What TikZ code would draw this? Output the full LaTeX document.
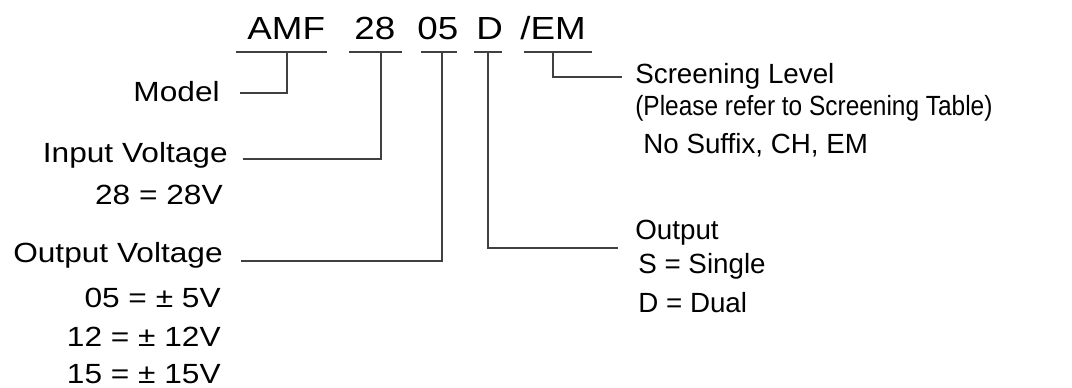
\documentclass[tikz,border=0pt]{standalone}
\usepackage{fontspec}
\setmainfont{Liberation Sans}
\newfontfamily\codefont[FakeStretch=1.15]{Liberation Sans}
\newfontfamily\leftfont[FakeStretch=1.14]{Liberation Sans}
\newfontfamily\notefont[FakeStretch=0.88]{Liberation Sans}
\begin{document}
\begin{tikzpicture}[x=0.02cm,y=-0.02cm,
  lbl/.style={inner sep=0pt,anchor=base west,font=\fontsize{15.8}{19}\selectfont},
  lbll/.style={inner sep=0pt,anchor=base east,font=\leftfont\fontsize{15.8}{19}\selectfont},
  note/.style={inner sep=0pt,anchor=base west,font=\notefont\fontsize{15.8}{19}\selectfont},
  code/.style={inner sep=0pt,anchor=base west,font=\codefont\fontsize{18.2}{21}\selectfont},
  lead/.style={draw=black!75,line width=0.6pt}]
  \useasboundingbox (0,0) rectangle (1072,387);
  % part number
  \node[code] (amf) at (247,39) {AMF};
  \node[code] (vin) at (354,39) {28};
  \node[code] (vout) at (417,39) {05};
  \node[code] (outs) at (476,39) {D};
  \node[code] (scr) at (520,39) {/EM};
  \foreach \a/\b in {236/327, 349/402, 421/457, 474/502, 524/592}
    \draw[lead] (\a,52) -- (\b,52);
  \coordinate (amf-t) at (287,52);
  \coordinate (vin-t) at (381,52);
  \coordinate (vout-t) at (442,52);
  \coordinate (outs-t) at (488,52);
  \coordinate (scr-t) at (553,52);
  % left labels
  \node[lbll] (model) at (220,101) {Model};
  \node[lbll] (inlbl) at (228,162) {Input Voltage};
  \node[lbll] (in28) at (223,204) {28 = 28V};
  \node[lbll] (outlbl) at (223,262) {Output Voltage};
  \node[lbll] (o05) at (221,307) {05 = ± 5V};
  \node[lbll] (o12) at (221,346) {12 = ± 12V};
  \node[lbll] (o15) at (221,383) {15 = ± 15V};
  % right labels
  \node[lbl] (scrlbl) at (635,83) {Screening Level};
  \node[note] (scrnote) at (635,115) {(Please refer to Screening Table)};
  \node[lbl] (scrval) at (643,153) {No Suffix, CH, EM};
  \node[lbl] (outslbl) at (635,239) {Output};
  \node[lbl] (single) at (638,273) {S = Single};
  \node[lbl] (dual) at (638,312) {D = Dual};
  % leaders
  \draw[lead] (amf-t) |- ([xshift=0.4cm,yshift=0.16cm]model.base east);
  \draw[lead] (vin-t) |- ([xshift=0.3cm,yshift=0.06cm]inlbl.base east);
  \draw[lead] (vout-t) |- ([xshift=0.36cm,yshift=0.02cm]outlbl.base east);
  \draw[lead] (outs-t) |- ([xshift=-0.34cm,yshift=-0.18cm]outslbl.base west);
  \draw[lead] (scr-t) |- ([xshift=-0.26cm,yshift=0.12cm]scrlbl.base west);
\end{tikzpicture}
\end{document}
